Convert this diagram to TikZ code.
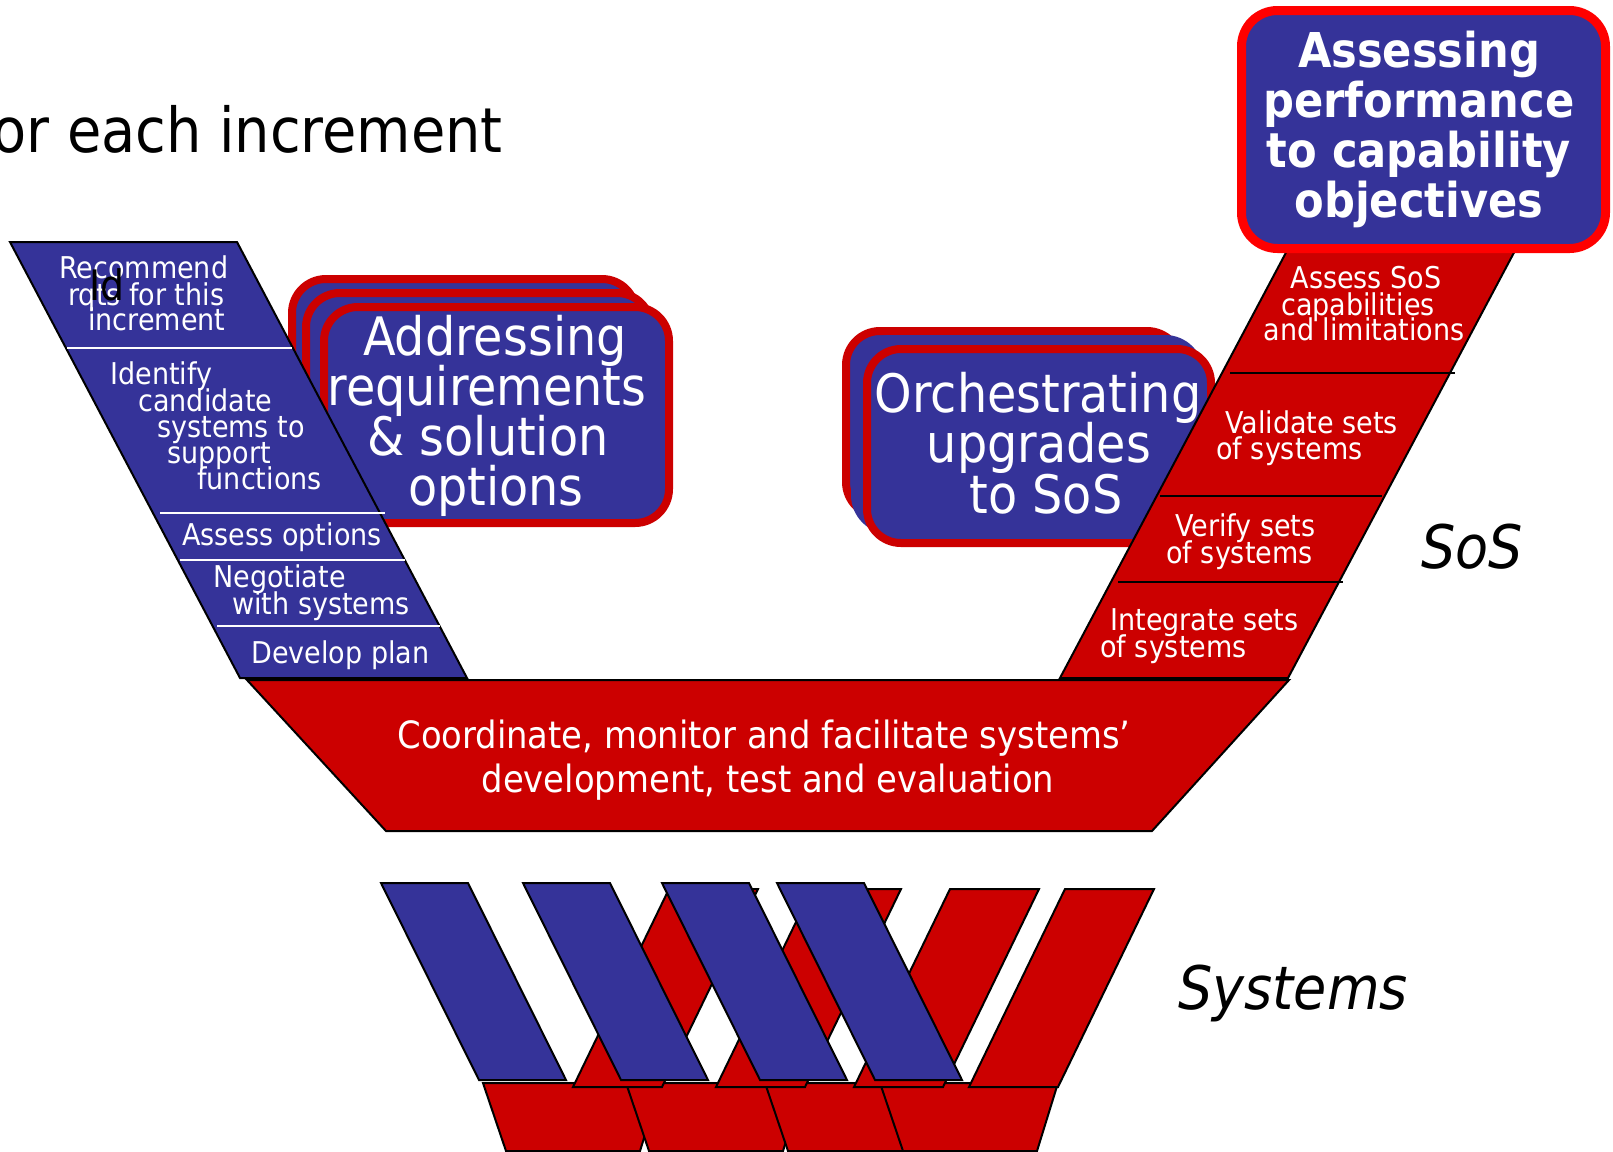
\documentclass[tikz,border=0pt]{standalone}
\usepackage{fontspec}
\IfFontExistsTF{DejaVu Sans Condensed}{\setmainfont{DejaVu Sans Condensed}}{\setmainfont{DejaVu Sans}[FakeStretch=0.9]}
\definecolor{vblue}{HTML}{353399}
\definecolor{vred}{HTML}{CC0000}
\definecolor{bred}{HTML}{FF0000}
\tikzset{
 outl/.style={draw=black, line width=1pt, line join=miter},
 bluepart/.style={outl, fill=vblue},
 redpart/.style={outl, fill=vred},
 sepw/.style={draw=white, line width=1.3pt},
 sepk/.style={draw=black, line width=1.3pt},
 stackbox/.style={fill=vblue, draw=vred, line width=4pt, rounded corners=17pt},
 cell/.style={text=white, inner sep=0pt, anchor=base west, font=\fontsize{15pt}{15pt}\selectfont},
 cellc/.style={cell, anchor=base},
 bigtxt/.style={text=white, inner sep=0pt, anchor=base, font=\fontsize{26.5pt}{26.5pt}\selectfont},
 boldtxt/.style={text=white, inner sep=0pt, anchor=base, font=\bfseries\fontsize{24pt}{24pt}\selectfont},
 midtxt/.style={text=white, inner sep=0pt, anchor=base, font=\fontsize{18.8pt}{18.8pt}\selectfont},
 lbl/.style={text=black, inner sep=0pt, font=\itshape\fontsize{30pt}{30pt}\selectfont},
}
\begin{document}
\begin{tikzpicture}[x=0.5pt,y=-0.5pt]
\useasboundingbox (0,0) rectangle (1613,1152);

% ---- Addressing stack
\path[stackbox] (292,279) rectangle (636,496);
\path[stackbox] (306,293) rectangle (651,509);
\path[stackbox] (324,307) rectangle (669,523);
\node[bigtxt] (ad1) at (495,355) {Addressing};
\node[bigtxt] (ad2) at (487,405) {requirements};
\node[bigtxt] (ad3) at (488,455) {\& solution};
\node[bigtxt] (ad4) at (496,505) {options};

% ---- left blue leg
\path[bluepart] (10,242) -- (237,242) -- (467,678) -- (240,678) -- cycle;
\path[sepw] (67,348) -- (292,348);
\path[sepw] (160,513) -- (385,513);
\path[sepw] (180,560) -- (405,560);
\path[sepw] (217,626) -- (440,626);
\node[cell] (c1a) at (59,278) {Recommend};
\node[cell] (c1b) at (68,305) {rqts for this};
\node[cell] (c1c) at (88,330) {increment};
\node[text=black, inner sep=0pt, anchor=base west, font=\fontsize{21pt}{21pt}\selectfont] (id) at (89,300) {Id};
\node[cell] (c2a) at (110,384) {Identify};
\node[cell] (c2b) at (138,411) {candidate};
\node[cell] (c2c) at (157,437) {systems to};
\node[cell] (c2d) at (167,463) {support};
\node[cell] (c2e) at (197,489) {functions};
\node[cell] (c3a) at (182,545) {Assess options};
\node[cell] (c4a) at (213,587) {Negotiate};
\node[cell] (c4b) at (232,614) {with systems};
\node[cell] (c5a) at (251,663) {Develop plan};

% ---- Orchestrating stack
\path[stackbox] (846,331) rectangle (1181,516);
\path[fill=vblue, draw=vblue, line width=1pt, rounded corners=19pt] (852,336) rectangle (1203,533);
\path[stackbox] (867,349) rectangle (1211,543);
\node[bigtxt] (or1) at (1038,412) {Orchestrating};
\node[bigtxt] (or2) at (1039,462) {upgrades};
\node[bigtxt] (or3) at (1046,513) {to SoS};

% ---- right red leg
\path[redpart] (1060,678) -- (1288,678) -- (1518,245) -- (1290,245) -- cycle;
\path[sepk] (1230,373) -- (1455,373);
\path[sepk] (1160,496) -- (1382,496);
\path[sepk] (1118,582) -- (1343,582);
\node[cellc] (r1a) at (1366,288) {Assess SoS};
\node[cellc] (r1b) at (1358,315) {capabilities};
\node[cellc] (r1c) at (1364,340) {and limitations};
\node[cell] (r2a) at (1225,433) {Validate sets};
\node[cell] (r2b) at (1216,459) {of systems};
\node[cell] (r3a) at (1175,536) {Verify sets};
\node[cell] (r3b) at (1166,563) {of systems};
\node[cell] (r4a) at (1110,630) {Integrate sets};
\node[cell] (r4b) at (1100,657) {of systems};

% ---- bottom trapezoid
\path[redpart] (247,680) -- (1289,680) -- (1152,831) -- (386,831) -- cycle;
\node[midtxt] (co1) at (764,748) {Coordinate, monitor and facilitate systems’};
\node[midtxt] (co2) at (768,792) {development, test and evaluation};

% ---- Assessing box
\path[fill=vblue, draw=bred, line width=4.5pt, rounded corners=18pt] (1241.5,10.5) rectangle (1605.5,248.5);
\node[boldtxt] (as1) at (1419,67) {Assessing};
\node[boldtxt] (as2) at (1419,117) {performance};
\node[boldtxt] (as3) at (1419,167) {to capability};
\node[boldtxt] (as4) at (1419,217) {objectives};

% ---- labels
\node[text=black, inner sep=0pt, anchor=base east, font=\fontsize{31pt}{31pt}\selectfont] (title) at (503,152) {or each increment};
\node[lbl, anchor=base west] (sos) at (1421,568) {SoS};
\node[lbl, anchor=base west] (sys) at (1178,1009) {Systems};

% ---- systems: bottom segments
\foreach \sx in {483,626,765,880}
  \path[redpart] (\sx,1083) -- (\sx+178,1083) -- (\sx+157,1151) -- (\sx+23,1151) -- cycle;
% right red legs
\foreach \rx in {573,716,854,969}
  \path[redpart] (\rx,1087) -- (\rx+89,1087) -- (\rx+185,889) -- (\rx+96,889) -- cycle;
% left blue legs
\foreach \bx in {381,523,662,777}
  \path[bluepart] (\bx,883) -- (\bx+87,883) -- (\bx+185,1080) -- (\bx+98,1080) -- cycle;
\end{tikzpicture}
\end{document}
